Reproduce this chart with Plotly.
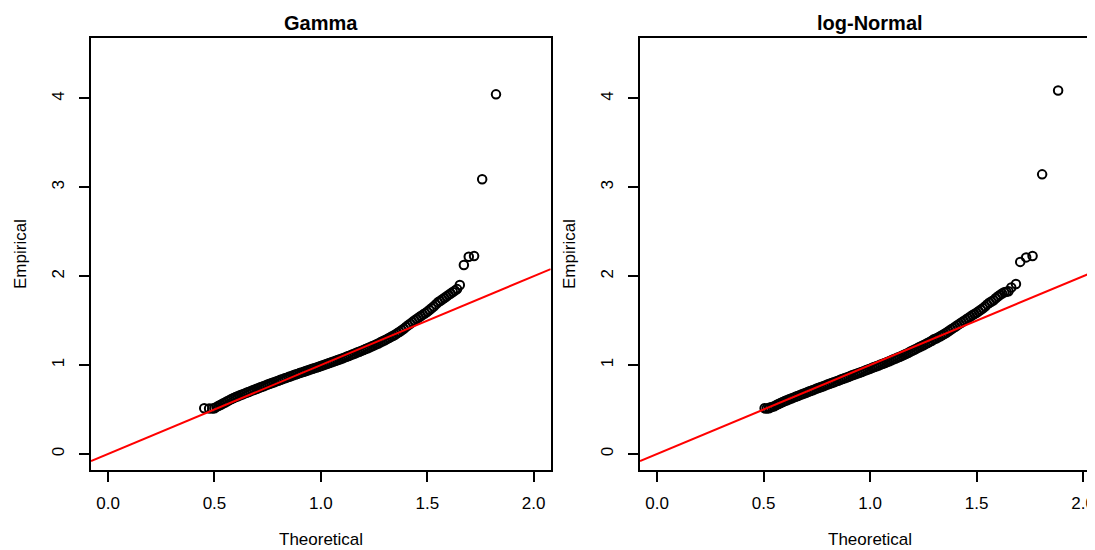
import plotly.graph_objects as go

# ---------------- data ----------------
panel_titles = ["Gamma", "log-Normal"]
x_axis_label = "Theoretical"
y_axis_label = "Empirical"
x_tick_values = [0.0, 0.5, 1.0, 1.5, 2.0]
y_tick_values = [0, 1, 2, 3, 4]
ref_intercept = 0.0
ref_slope = 1.0

gamma_theoretical = [
    0.452, 0.475, 0.490,
    0.50, 0.51, 0.52, 0.53, 0.54, 0.55, 0.56, 0.57, 0.58, 0.59,
    0.60, 0.61, 0.62, 0.63, 0.64, 0.65, 0.66, 0.67, 0.68, 0.69,
    0.70, 0.71, 0.72, 0.73, 0.74, 0.75, 0.76, 0.77, 0.78, 0.79,
    0.80, 0.81, 0.82, 0.83, 0.84, 0.85, 0.86, 0.87, 0.88, 0.89,
    0.90, 0.91, 0.92, 0.93, 0.94, 0.95, 0.96, 0.97, 0.98, 0.99,
    1.00, 1.01, 1.02, 1.03, 1.04, 1.05, 1.06, 1.07, 1.08, 1.09,
    1.10, 1.11, 1.12, 1.13, 1.14, 1.15, 1.16, 1.17, 1.18, 1.19,
    1.20, 1.21, 1.22, 1.23, 1.24, 1.25, 1.26, 1.27, 1.28, 1.29,
    1.30, 1.31, 1.32, 1.33, 1.34, 1.35, 1.36, 1.37, 1.38, 1.39,
    1.40, 1.41, 1.42, 1.43, 1.44, 1.45, 1.46, 1.47, 1.48, 1.49,
    1.50, 1.51, 1.52, 1.53, 1.54, 1.55, 1.56, 1.57, 1.58, 1.59,
    1.60, 1.61, 1.62, 1.63, 1.64,
    1.653, 1.672, 1.695, 1.720, 1.758, 1.823,
]
gamma_empirical = [
    0.515, 0.513, 0.512,
    0.515, 0.530, 0.542, 0.555, 0.568, 0.580, 0.593, 0.606, 0.618, 0.630,
    0.640, 0.650, 0.660, 0.669, 0.679, 0.688, 0.698, 0.707, 0.717, 0.726,
    0.735, 0.744, 0.754, 0.763, 0.772, 0.781, 0.790, 0.799, 0.808, 0.817,
    0.825, 0.834, 0.842, 0.851, 0.859, 0.868, 0.876, 0.885, 0.893, 0.901,
    0.910, 0.918, 0.926, 0.934, 0.942, 0.950, 0.958, 0.966, 0.974, 0.982,
    0.990, 0.998, 1.006, 1.015, 1.023, 1.032, 1.040, 1.048, 1.057, 1.066,
    1.075, 1.084, 1.093, 1.103, 1.112, 1.122, 1.131, 1.141, 1.150, 1.160,
    1.170, 1.180, 1.190, 1.201, 1.211, 1.222, 1.233, 1.244, 1.256, 1.268,
    1.280, 1.292, 1.305, 1.318, 1.331, 1.345, 1.360, 1.376, 1.392, 1.410,
    1.430, 1.448, 1.466, 1.484, 1.502, 1.520, 1.536, 1.552, 1.568, 1.584,
    1.600, 1.620, 1.640, 1.660, 1.683, 1.706, 1.722, 1.738, 1.755, 1.772,
    1.790, 1.805, 1.822, 1.838, 1.855,
    1.901, 2.126, 2.219, 2.227, 3.090, 4.046,
]

lnorm_theoretical = [
    0.505, 0.515, 0.525,
    0.53, 0.54, 0.55, 0.56, 0.57, 0.58, 0.59,
    0.60, 0.61, 0.62, 0.63, 0.64, 0.65, 0.66, 0.67, 0.68, 0.69,
    0.70, 0.71, 0.72, 0.73, 0.74, 0.75, 0.76, 0.77, 0.78, 0.79,
    0.80, 0.81, 0.82, 0.83, 0.84, 0.85, 0.86, 0.87, 0.88, 0.89,
    0.90, 0.91, 0.92, 0.93, 0.94, 0.95, 0.96, 0.97, 0.98, 0.99,
    1.00, 1.01, 1.02, 1.03, 1.04, 1.05, 1.06, 1.07, 1.08, 1.09,
    1.10, 1.11, 1.12, 1.13, 1.14, 1.15, 1.16, 1.17, 1.18, 1.19,
    1.20, 1.21, 1.22, 1.23, 1.24, 1.25, 1.26, 1.27, 1.28, 1.29,
    1.30, 1.31, 1.32, 1.33, 1.34, 1.35, 1.36, 1.37, 1.38, 1.39,
    1.40, 1.41, 1.42, 1.43, 1.44, 1.45, 1.46, 1.47, 1.48, 1.49,
    1.50, 1.51, 1.52, 1.53, 1.54, 1.55, 1.56, 1.57, 1.58, 1.59,
    1.60, 1.61, 1.62, 1.63, 1.64, 1.65,
    1.663, 1.685, 1.705, 1.733, 1.763, 1.808, 1.883,
]
lnorm_empirical = [
    0.514, 0.512, 0.515,
    0.522, 0.530, 0.538, 0.550, 0.562, 0.574, 0.585,
    0.595, 0.605, 0.615, 0.624, 0.634, 0.643, 0.653, 0.662, 0.672, 0.681,
    0.690, 0.700, 0.709, 0.718, 0.727, 0.736, 0.745, 0.754, 0.763, 0.772,
    0.781, 0.790, 0.799, 0.808, 0.817, 0.825, 0.834, 0.843, 0.852, 0.861,
    0.870, 0.879, 0.888, 0.897, 0.906, 0.914, 0.923, 0.932, 0.941, 0.950,
    0.960, 0.969, 0.978, 0.987, 0.996, 1.006, 1.015, 1.024, 1.034, 1.043,
    1.055, 1.065, 1.075, 1.085, 1.095, 1.106, 1.116, 1.127, 1.138, 1.153,
    1.165, 1.176, 1.188, 1.200, 1.212, 1.224, 1.236, 1.248, 1.261, 1.274,
    1.290, 1.300, 1.312, 1.325, 1.338, 1.352, 1.367, 1.383, 1.400, 1.416,
    1.432, 1.448, 1.464, 1.480, 1.496, 1.512, 1.528, 1.544, 1.560, 1.575,
    1.590, 1.606, 1.622, 1.640, 1.660, 1.683, 1.702, 1.716, 1.730, 1.752,
    1.772, 1.790, 1.806, 1.820, 1.826, 1.830,
    1.873, 1.912, 2.161, 2.212, 2.227, 3.146, 4.089,
]

# ---------------- layout geometry ----------------
# The page body adds an 8px margin, so the figure is drawn 8px smaller
# and every pixel position below is the reference position minus 8.
OFF = 8
W, H = 1095 - OFF, 550 - OFF
ML, MR, MT, MB = 91 - OFF, 0, 38 - OFF, 80
PW = W - ML - MR
PH = H - MT - MB

def px_x(p):
    return (p - OFF - ML) / PW

def px_y(p):
    return (H - MB - (p - OFF)) / PH

left_dom = [0.0, px_x(550.7)]
right_dom = [px_x(640), 1.0]
x_range_left = [-0.08, 2.08]
x_range_right = [-0.08, -0.08 + (1095 - 640) / 213.0]
y_range = [-0.18, 4.68]

FONT = "Liberation Sans, Arial, Helvetica, sans-serif"

fig = go.Figure()

panels = [
    (gamma_theoretical, gamma_empirical, "x", "y", x_range_left),
    (lnorm_theoretical, lnorm_empirical, "x2", "y2", x_range_right),
]
for xs, ys, xa, ya, xr in panels:
    fig.add_trace(go.Scatter(
        x=xs, y=ys, mode="markers", xaxis=xa, yaxis=ya, showlegend=False,
        marker=dict(symbol="circle-open", size=8.5, color="black",
                    line=dict(width=2, color="black")),
        hoverinfo="skip",
    ))
    lx = [xr[0], xr[1]]
    ly = [ref_intercept + ref_slope * v for v in lx]
    fig.add_trace(go.Scatter(
        x=lx, y=ly, mode="lines", xaxis=xa, yaxis=ya, showlegend=False,
        line=dict(color="#ff0000", width=2), hoverinfo="skip",
    ))

axis_common = dict(
    showgrid=False, zeroline=False, showline=True, linecolor="black",
    linewidth=2, ticks="outside", ticklen=10, tickwidth=2, tickcolor="black",
    tickfont=dict(family=FONT, size=17, color="black"),
)

fig.update_layout(
    width=W, height=H,
    margin=dict(l=ML, r=MR, t=MT, b=MB, pad=0),
    paper_bgcolor="white", plot_bgcolor="white",
    xaxis=dict(domain=left_dom, range=x_range_left, tickvals=x_tick_values,
               tickformat=".1f", mirror=True, anchor="y",
               ticklabelstandoff=7, **axis_common),
    yaxis=dict(domain=[0, 1], range=y_range, tickvals=y_tick_values,
               tickangle=-90, mirror=True, anchor="x",
               ticklabelstandoff=8, **axis_common),
    xaxis2=dict(domain=right_dom, range=x_range_right, tickvals=x_tick_values,
                tickformat=".1f", mirror=True, anchor="y2",
                ticklabelstandoff=7, **axis_common),
    yaxis2=dict(domain=[0, 1], range=y_range, tickvals=y_tick_values,
                tickangle=-90, mirror=False, anchor="x2",
                ticklabelstandoff=8, **axis_common),
)

annotations = []
centers = [321, 870]
ylab_x = [20, 569]
for i, title in enumerate(panel_titles):
    annotations.append(dict(
        text="<b>%s</b>" % title, x=px_x(centers[i]), y=px_y(23),
        xref="paper", yref="paper", showarrow=False,
        xanchor="center", yanchor="middle",
        font=dict(family=FONT, size=20, color="black"),
    ))
    annotations.append(dict(
        text=x_axis_label, x=px_x(centers[i]), y=px_y(539),
        xref="paper", yref="paper", showarrow=False,
        xanchor="center", yanchor="middle",
        font=dict(family=FONT, size=17, color="black"),
    ))
    annotations.append(dict(
        text=y_axis_label, x=px_x(ylab_x[i]), y=px_y(254),
        xref="paper", yref="paper", showarrow=False, textangle=-90,
        xanchor="center", yanchor="middle",
        font=dict(family=FONT, size=17, color="black"),
    ))
fig.update_layout(annotations=annotations)

fig.write_html("out.html")
